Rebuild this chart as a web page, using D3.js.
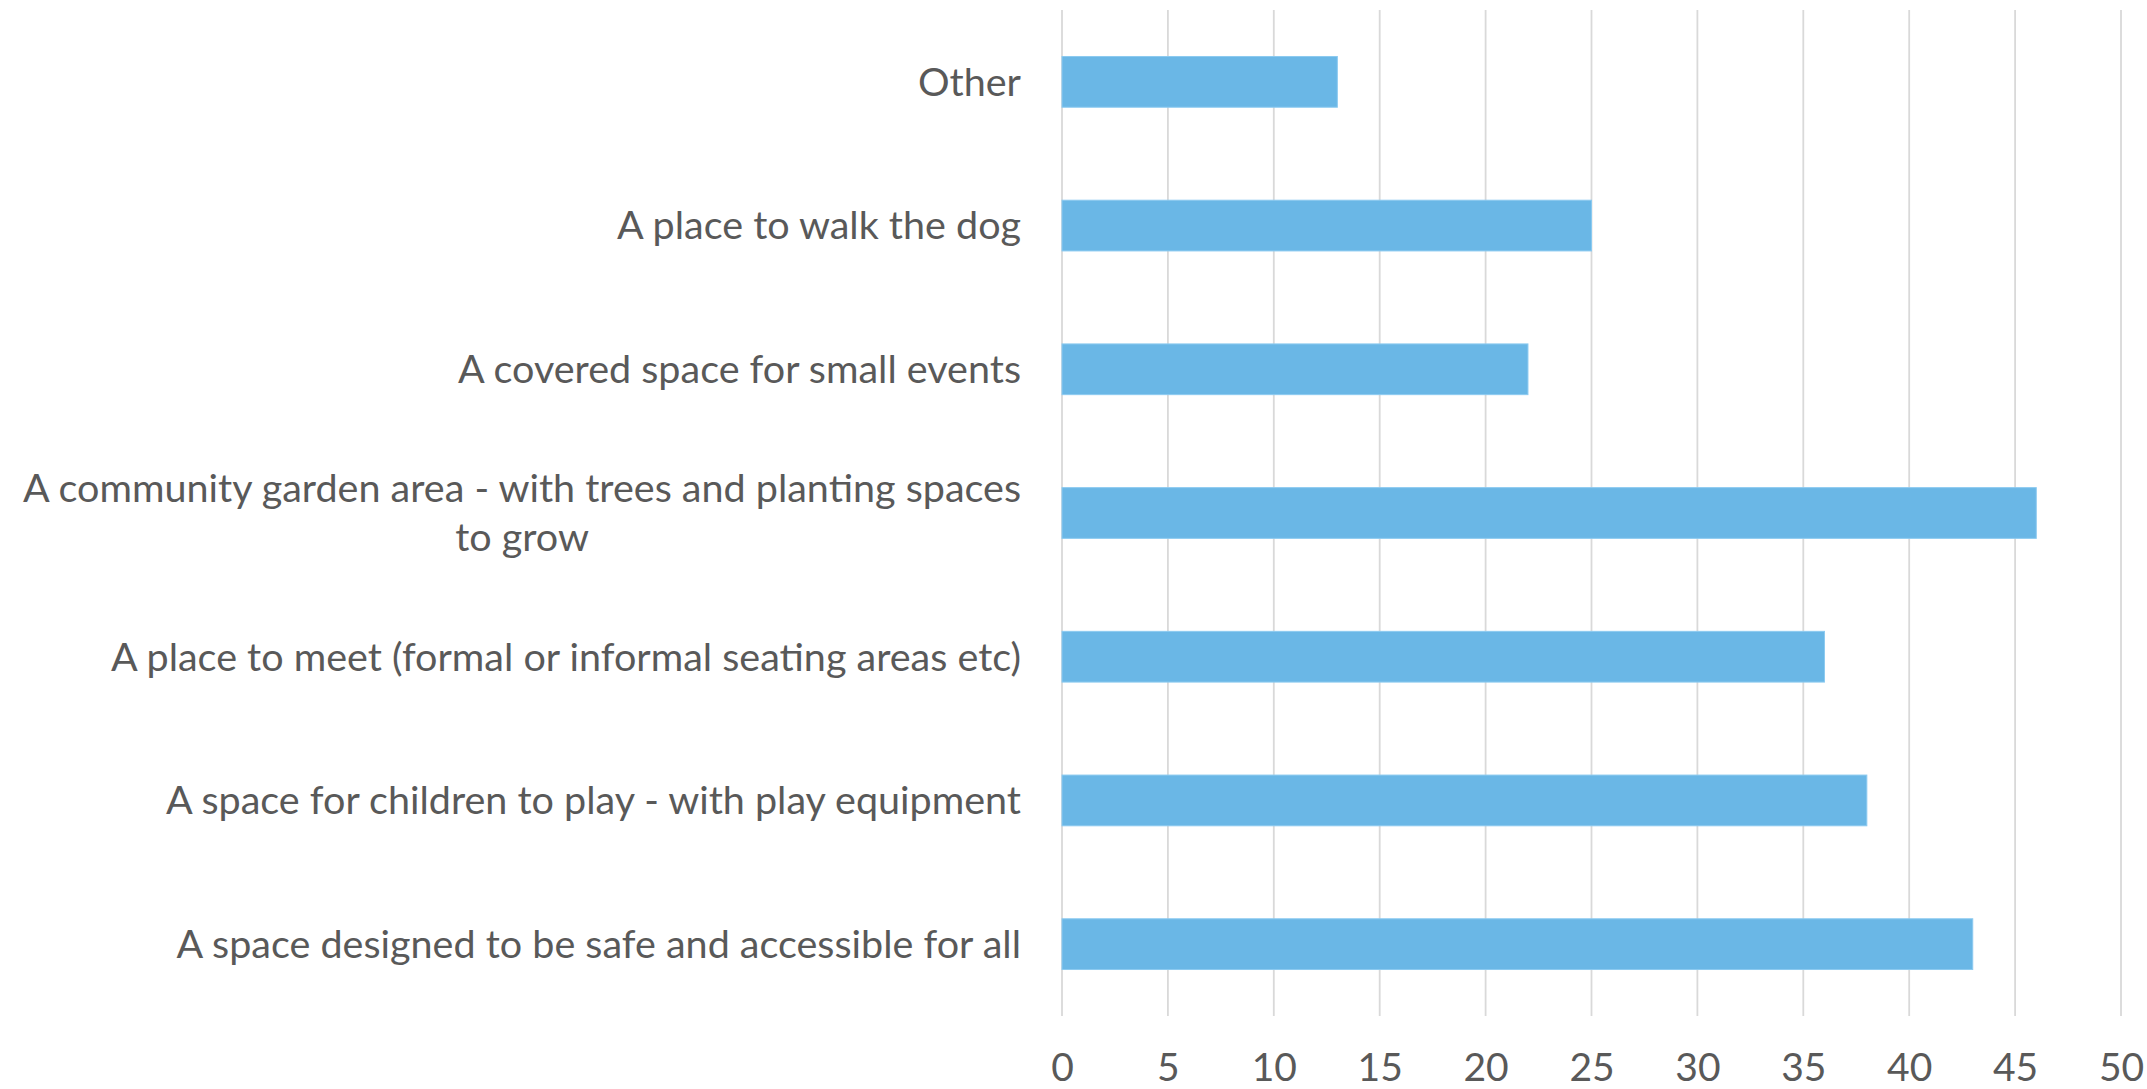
<!DOCTYPE html>
<html>
<head>
<meta charset="utf-8">
<script src="https://cdn.jsdelivr.net/npm/d3@7"></script>
<style>
  body { margin: 0; background: #fff; }
  svg { display: block; font-family: Lato, "Open Sans", sans-serif; }
</style>
</head>
<body>
<svg id="chart" width="2147" height="1089"></svg>
<script>
// categories top to bottom, as in the picture
const categories = [
  "Other",
  "A place to walk the dog",
  "A covered space for small events",
  "A community garden area - with trees and planting spaces to grow",
  "A place to meet (formal or informal seating areas etc)",
  "A space for children to play - with play equipment",
  "A space designed to be safe and accessible for all"
];
const values = [13, 25, 22, 46, 36, 38, 43];
const xTicks = [0, 5, 10, 15, 20, 25, 30, 35, 40, 45, 50];

const width = 2147, height = 1089;
const margin = {top: 10, right: 26, bottom: 73, left: 1062};

const svg = d3.select("#chart");

const x = d3.scaleLinear()
  .domain([0, 50])
  .range([margin.left, width - margin.right]);

const y = d3.scaleBand()
  .domain(categories)
  .range([margin.top, height - margin.bottom])
  .paddingInner(0.647)
  .paddingOuter(0.3235);

// gridlines
svg.append("g")
  .selectAll("line")
  .data(xTicks)
  .enter().append("line")
  .attr("x1", d => x(d))
  .attr("x2", d => x(d))
  .attr("y1", margin.top)
  .attr("y2", height - margin.bottom)
  .attr("stroke", "#d9d9d9")
  .attr("stroke-width", 1.8);

// bars
svg.append("g")
  .selectAll("rect")
  .data(categories)
  .enter().append("rect")
  .attr("x", x(0))
  .attr("y", d => y(d))
  .attr("width", (d, i) => x(values[i]) - x(0))
  .attr("height", y.bandwidth())
  .attr("fill", "#6ab7e6")
  .attr("stroke", "#8ccaf0")
  .attr("stroke-width", 1);

// x axis labels
const xAxis = svg.append("g")
  .attr("transform", "translate(0," + (height - margin.bottom) + ")")
  .call(d3.axisBottom(x).tickValues(xTicks).tickSize(0).tickPadding(37));
xAxis.select(".domain").remove();
xAxis.selectAll("text")
  .attr("fill", "#595959")
  .style("font-size", "39px")
  .style("font-family", "Lato, 'Open Sans', sans-serif");

// category labels, wrapped and centred in a right-aligned block
const labelRight = 1021;
const maxLabelWidth = 1025;
const lineHeight = 49;
const labels = svg.append("g")
  .style("font-size", "39.5px")
  .attr("fill", "#595959");

categories.forEach(cat => {
  const cy = y(cat) + y.bandwidth() / 2;
  const t = labels.append("text").attr("text-anchor", "middle");
  const words = cat.split(" ");
  const lines = [];
  let cur = [];
  const probe = t.append("tspan");
  words.forEach(w => {
    const test = cur.concat([w]).join(" ");
    probe.text(test);
    if (probe.node().getComputedTextLength() > maxLabelWidth && cur.length) {
      lines.push(cur.join(" "));
      cur = [w];
    } else {
      cur.push(w);
    }
  });
  lines.push(cur.join(" "));
  probe.remove();
  let maxW = 0;
  lines.forEach(l => {
    const s = t.append("tspan").text(l);
    maxW = Math.max(maxW, s.node().getComputedTextLength());
    s.remove();
  });
  const cx = labelRight - maxW / 2;
  const y0 = cy - (lines.length - 1) * lineHeight / 2;
  lines.forEach((l, i) => {
    t.append("tspan")
      .attr("x", cx)
      .attr("y", y0 + i * lineHeight)
      .attr("dy", "0.35em")
      .text(l);
  });
});
</script>
</body>
</html>
